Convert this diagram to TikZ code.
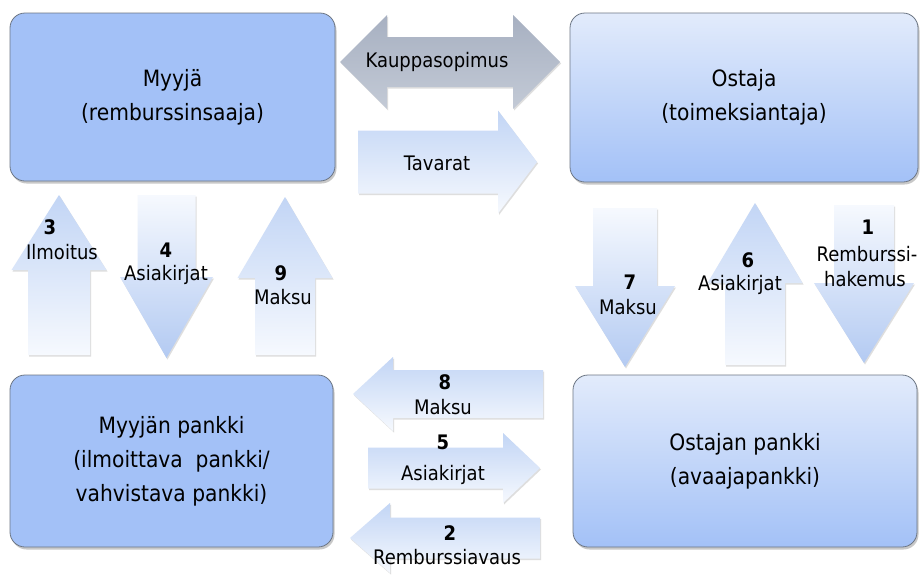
\documentclass[tikz,border=0pt]{standalone}
\usepackage{fontspec}
\setmainfont{DejaVu Sans}[FakeStretch=0.9]
\usetikzlibrary{shadows}
\definecolor{boxblue}{HTML}{A3C1F7}
\definecolor{boxtop}{HTML}{E2EBFB}
\definecolor{boxedge}{HTML}{6C7684}
\definecolor{arrblue}{HTML}{C2D5F5}
\definecolor{arrdown}{HTML}{B3CAF2}
\definecolor{arrlight}{HTML}{F6F9FE}
\definecolor{graytop}{HTML}{A7B0C1}
\definecolor{graybot}{HTML}{C3CAD6}
\newcommand{\vArrow}[7]{% style, cx, tip y, base y, head half, shaft half, tail y
  \path[#1] (#2,#3) -- ({#2+#5},#4) -- ({#2+#6},#4) -- ({#2+#6},#7)
    -- ({#2-#6},#7) -- ({#2-#6},#4) -- ({#2-#5},#4) -- cycle;}
\newcommand{\hArrow}[7]{% style, cy, tip x, base x, head half, shaft half, tail x
  \path[#1] (#3,#2) -- (#4,{#2-#5}) -- (#4,{#2-#6}) -- (#7,{#2-#6})
    -- (#7,{#2+#6}) -- (#4,{#2+#6}) -- (#4,{#2+#5}) -- cycle;}
\tikzset{
  boxsh/.style={drop shadow={shadow xshift=1.5pt, shadow yshift=-2.5pt, opacity=0.3, fill=black!70}},
  boxbase/.style={draw=boxedge, line width=0.8pt, rounded corners=15pt, boxsh,
    align=center, font=\fontsize{22.5}{34}\selectfont, inner sep=0pt, text=black},
  leftbox/.style={boxbase, fill=boxblue},
  rightbox/.style={boxbase, top color=boxtop, bottom color=boxblue},
  arrsh/.style={drop shadow={shadow xshift=1pt, shadow yshift=-1.5pt, opacity=0.18, fill=black!70}},
  uparr/.style={arrsh, top color=arrblue, bottom color=arrlight},
  downarr/.style={arrsh, top color=arrlight, bottom color=arrdown},
  harr/.style={arrsh, top color=arrblue, bottom color=arrlight},
  grayarr/.style={arrsh, top color=graytop, bottom color=graybot},
  lbl/.style={font=\fontsize{20}{25}\selectfont, inner sep=0pt, text=black},
  num/.style={lbl, font=\fontsize{20}{25}\selectfont\bfseries}
}
\begin{document}
\begin{tikzpicture}[x=1pt,y=-1pt]
\useasboundingbox[fill=white] (0,0) rectangle (924,576);
% boxes
\node[leftbox, minimum width=325pt, minimum height=168pt] (myyja) at (172.5,97) {Myyjä\\(remburssinsaaja)};
\node[rightbox, minimum width=348pt, minimum height=169pt] (ostaja) at (744,97.5) {Ostaja\\(toimeksiantaja)};
\node[leftbox, minimum width=323pt, minimum height=172pt] (mpankki) at (171.5,461) {Myyjän pankki\\(ilmoittava\ \ pankki/\\vahvistava pankki)};
\node[rightbox, minimum width=344pt, minimum height=172pt] (opankki) at (745,461) {Ostajan pankki\\(avaajapankki)};
% top horizontal arrows
\path[grayarr] (340,62) -- (387,15) -- (387,37) -- (513,37) -- (513,15) -- (560,62)
  -- (513,109) -- (513,87) -- (387,87) -- (387,109) -- cycle;
\hArrow{harr}{162}{537}{498}{51.5}{31.5}{358}
% left vertical arrows
\vArrow{uparr}{59}{195}{270}{47.5}{31}{355}
\vArrow{downarr}{166.5}{358}{277}{46.5}{29}{195}
\vArrow{uparr}{285}{197}{278}{47.5}{30}{355}
% right vertical arrows
\vArrow{downarr}{625}{367}{286}{50}{32}{208}
\vArrow{uparr}{755}{203}{283}{47.5}{30}{365}
\vArrow{downarr}{864}{363}{283}{50}{30}{205}
% bottom horizontal arrows
\hArrow{harr}{394}{353}{393}{37}{24}{543}
\hArrow{harr}{468}{540}{503}{35}{20.5}{368}
\hArrow{harr}{538}{350}{390}{35}{20.5}{540}
% labels
\node[lbl] (tkp) at (437,62) {Kauppasopimus};
\node[lbl] (ttav) at (437,163) {Tavarat};
\node[num] (n3) at (50,227) {3};
\node[lbl] (t3) at (62,252) {Ilmoitus};
\node[num] (n4) at (166,250) {4};
\node[lbl] (t4) at (166,275) {Asiakirjat};
\node[num] (n9) at (281,273) {9};
\node[lbl] (t9) at (283,297) {Maksu};
\node[num] (n7) at (630,282) {7};
\node[lbl] (t7) at (628,307) {Maksu};
\node[num] (n6) at (748,260) {6};
\node[lbl] (t6) at (740,285) {Asiakirjat};
\node[num] (n1) at (868,227) {1};
\node[lbl] (t1a) at (867,254) {Remburssi-};
\node[lbl] (t1b) at (865,279) {hakemus};
\node[num] (n8) at (445,382) {8};
\node[lbl] (t8) at (443,407) {Maksu};
\node[num] (n5) at (443,442) {5};
\node[lbl] (t5) at (443,475) {Asiakirjat};
\node[num] (n2) at (450,533) {2};
\node[lbl] (t2) at (447,557) {Remburssiavaus};
\end{tikzpicture}
\end{document}
